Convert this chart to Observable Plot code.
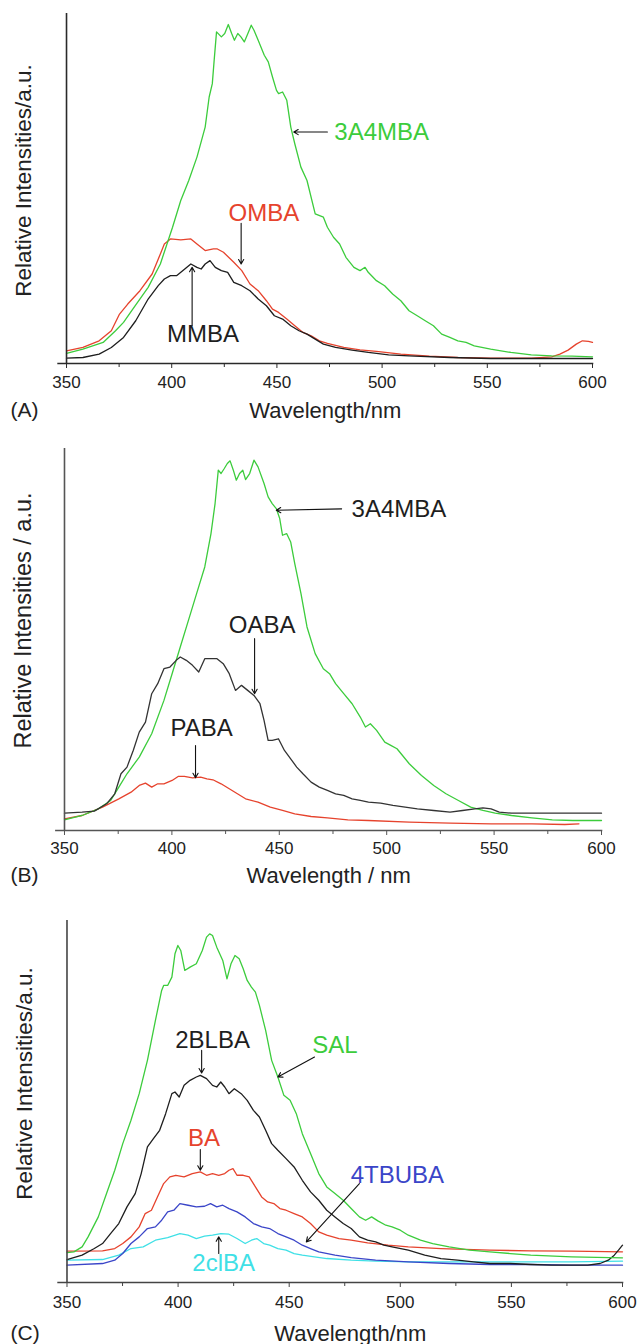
<!DOCTYPE html>
<html><head><meta charset="utf-8">
<script src="https://cdn.jsdelivr.net/npm/d3@7"></script>
<script src="https://cdn.jsdelivr.net/npm/@observablehq/plot@0.6"></script>
<style>
body{margin:0;background:#fff;width:640px;}
#chart svg{display:block;}
</style></head><body><div id="chart"></div>
<script>
// ---------- tick labels ----------
const majorTicks = [350, 400, 450, 500, 550, 600];
const minorTicks = [375, 425, 475, 525, 575];

// ---------- colours ----------
const GREEN = "#3ccc3c", RED = "#e6432d", BLACK = "#1e1e1e", BLUE = "#3a45c8", CYAN = "#3fe0e6";

// ---------- Panel A : [wavelength nm, relative intensity] ----------
const A_3A4MBA = [[350,3.0],[357.8,4.3],[367.4,6.3],[373.3,9.8],[377.1,12.3],[381,15.8],[388.8,22.8],[394.6,29.8],[400.4,40.8],[404.3,48.8],[408.1,54.8],[412,61.8],[415.9,70.8],[417.8,79.8],[419.3,83.8],[420.2,91.0],[421.3,99.3],[423.6,97.8],[425.2,98.8],[426.9,101.5],[428.5,98.8],[429.8,96.8],[431.4,98.8],[432.9,97.8],[434.5,96.3],[436.2,98.8],[437.8,101.3],[439.1,99.8],[441.1,96.8],[444,92.3],[445.9,90.3],[447.9,85.8],[449.8,81.8],[450.8,80.8],[452.7,81.3],[454.7,78.8],[456.6,70.8],[458.5,65.8],[461.4,58.8],[464.3,54.8],[468.2,44.8],[472.1,43.8],[474,40.8],[476.9,37.8],[479.8,35.8],[482.8,31.8],[486.6,28.8],[489.5,27.8],[491.9,28.8],[493.4,27.3],[497.3,24.8],[501.2,23.3],[505,20.8],[508.9,18.8],[512.8,15.8],[516.7,14.3],[520.5,12.8],[524.4,11.3],[528.3,8.8],[532.2,7.8],[536,6.8],[539.9,6.3],[543.8,5.3],[551.6,4.3],[561.2,3.3],[570.9,2.6],[580.6,2.3],[590.3,2.2],[600,2.0]];
const A_OMBA = [[350,3.8],[357.8,4.8],[365.5,6.8],[371.3,9.8],[375.2,14.8],[379.1,17.8],[384.9,21.8],[390.7,26.8],[394.6,32.8],[396.5,35.8],[399.4,37.3],[404.3,37.0],[409.1,37.3],[412,35.8],[415.9,33.8],[419.8,34.3],[421.7,34.3],[424.6,33.3],[429.5,30.3],[433.3,27.8],[437.2,23.8],[441.1,21.8],[445,18.8],[447.9,16.3],[450.8,15.3],[454.7,13.3],[458.5,11.3],[462.4,9.3],[466.3,8.3],[470.2,6.8],[474,6.0],[481.8,4.8],[489.5,4.1],[497.3,3.6],[508.9,2.8],[522.5,2.2],[536,1.8],[551.6,1.6],[570.9,1.6],[580.6,2.0],[584.5,2.8],[588.4,4.0],[592.3,5.8],[595.2,6.8],[598.1,6.6],[600,6.3]];
const A_MMBA = [[350,1.6],[357.8,1.8],[365.5,2.8],[371.3,4.8],[377.1,7.8],[382.9,12.8],[388.8,19.3],[393.6,23.3],[396.5,25.3],[399.4,26.3],[402.3,26.3],[405.2,27.8],[409.1,29.8],[412,28.8],[414,28.3],[415.9,29.8],[418.2,30.8],[420.7,28.8],[423.6,27.8],[426.6,27.3],[429.5,24.3],[433.3,23.3],[437.2,21.8],[441.1,19.3],[445,17.3],[448.8,14.3],[452.7,13.3],[456.6,11.3],[460.5,9.8],[464.3,8.8],[468.2,7.3],[472.1,5.8],[477.9,4.8],[485.7,4.0],[493.4,3.3],[503.1,2.6],[512.8,2.3],[532.2,1.8],[551.6,1.5],[570.9,1.5],[600,1.5]];

// ---------- Panel B ----------
const B_3A4MBA = [[350,3.2],[358.2,4.5],[365.8,6.5],[371.5,9.0],[375.3,13.0],[379.1,17.0],[384.8,22.0],[390.6,29.0],[396.3,39.0],[400.1,47.0],[403.9,55.0],[407.7,63.0],[411.5,71.0],[415.3,79.0],[418.2,89.0],[420.1,98.0],[421.6,108.0],[422.9,107.0],[424.4,108.5],[425.8,110.0],[427.1,110.8],[428.6,108.0],[430,105.0],[431.5,107.0],[433,108.0],[434.3,105.2],[436.2,107.0],[438.2,111.0],[440.1,109.0],[442.9,104.0],[444.8,100.0],[446.7,98.0],[448.6,96.5],[450.2,93.5],[451.5,88.5],[453.4,89.0],[455.3,86.5],[457.2,80.0],[460.1,71.0],[462.9,61.0],[466.7,53.0],[470.5,48.5],[473.4,47.0],[476.2,44.0],[480,41.0],[483.9,38.0],[487.7,34.0],[490.1,31.0],[492.4,32.0],[495.3,30.0],[499.1,26.5],[501.9,25.5],[504.8,24.5],[510.5,20.0],[516.2,16.5],[521.9,13.5],[527.6,11.0],[533.4,9.0],[539.1,7.0],[544.8,6.0],[550.5,5.2],[558.1,4.5],[567.6,3.8],[577.1,3.2],[586.7,3.0],[600,3.0]];
const B_OABA = [[350,5.2],[358.2,5.5],[363.9,5.8],[369.6,8.0],[373.4,11.0],[376.3,17.0],[379.1,19.0],[382,24.0],[384.8,29.5],[387.7,32.5],[390.6,41.0],[393.4,44.0],[396.3,48.5],[399.1,49.0],[402,51.0],[403.9,52.0],[406.7,51.0],[409.6,49.5],[412.5,47.5],[415.3,51.5],[418.2,51.5],[421,51.5],[423.9,50.0],[426.7,47.0],[429.6,42.0],[432.4,43.5],[435.3,42.0],[438.2,40.5],[441,38.0],[442.9,33.0],[444.8,27.0],[446.7,27.0],[449.6,27.5],[452.4,24.0],[455.3,21.5],[458.1,19.0],[461,17.0],[464.8,14.5],[468.6,13.0],[472.4,12.0],[476.2,11.0],[480,10.5],[483.9,9.5],[487.7,9.0],[491.5,8.5],[497.2,8.2],[502.9,7.5],[508.6,7.0],[514.3,6.5],[521.9,6.0],[529.5,5.5],[535.3,6.0],[541,6.5],[544.8,6.8],[548.6,6.5],[552.4,5.5],[558.1,5.2],[567.6,5.2],[600,5.2]];
const B_PABA = [[350,3.5],[358.2,4.5],[367.7,7.0],[375.3,9.5],[381,11.5],[384.8,13.5],[387.7,14.2],[390.6,13.0],[393.4,14.0],[396.3,14.0],[400.1,15.0],[402.9,16.2],[405.8,16.2],[409.6,15.8],[413.4,16.0],[416.3,15.5],[419.1,15.2],[422.9,14.0],[426.7,12.5],[430.5,11.0],[434.3,9.5],[440.1,8.5],[445.8,7.0],[451.5,6.0],[457.2,5.0],[464.8,4.2],[472.4,3.8],[481.9,3.2],[491.5,3.0],[510.5,2.5],[529.5,2.2],[548.6,2.0],[567.6,2.0],[582.9,1.8],[589.5,2.0]];

// ---------- Panel C ----------
const C_SAL = [[350,9.0],[353.1,9.2],[356.8,10.7],[359.5,13.7],[364.1,19.7],[367.8,26.7],[371.5,33.7],[375.1,41.7],[378.8,48.7],[382.5,56.7],[386.2,66.7],[389.8,78.7],[392.6,87.7],[393.5,89.2],[395.3,89.2],[397.2,91.7],[398.6,98.7],[399.9,101.2],[401.2,99.7],[403,93.7],[405.4,94.7],[408.2,95.7],[410.9,99.7],[412.8,103.7],[414.2,104.7],[415.5,104.2],[417.4,100.7],[420.1,96.7],[422,91.2],[423.8,95.7],[425.6,98.2],[427.5,97.2],[429.3,94.2],[431.1,90.7],[433,88.7],[434.8,87.2],[436.6,83.2],[439.4,75.7],[442.1,66.7],[444.9,61.7],[447.6,56.2],[450.4,54.7],[453.2,50.7],[455.9,44.7],[459.6,38.7],[463.3,32.7],[466.9,28.7],[470.6,26.7],[474.3,24.7],[477.9,22.2],[481.6,19.7],[484.4,18.7],[487.1,19.7],[489.9,18.5],[493.5,17.2],[496.3,16.7],[500,15.7],[503.6,14.2],[509.1,12.7],[514.6,11.7],[522,10.7],[531.2,9.7],[540.3,9.2],[549.5,8.7],[558.7,8.2],[577.1,7.7],[600,7.4]];
const C_2BLBA = [[350,6.9],[356.8,8.2],[362.3,10.2],[366,11.7],[369.6,14.7],[373.3,17.7],[377,22.7],[380.7,26.7],[383.4,32.7],[386.2,40.7],[388.9,43.2],[391.7,45.7],[394.4,50.7],[397.2,56.7],[398.6,57.2],[400.5,55.7],[402.7,59.2],[405.4,60.7],[408.2,61.7],[410,62.2],[412.8,61.2],[415.5,59.2],[417.4,58.7],[419.2,60.2],[421,58.7],[422.9,56.7],[425.3,58.2],[428.4,56.7],[431.1,54.7],[433.9,51.7],[436.6,49.7],[439.4,45.7],[442.1,41.7],[444.9,39.7],[448.6,37.2],[452.2,34.7],[455.9,30.7],[459.6,27.2],[463.3,24.7],[466.9,21.7],[470.6,19.7],[474.3,17.7],[477.9,16.2],[481.6,13.7],[485.3,12.7],[488.9,12.2],[492.6,11.2],[496.3,10.7],[503.6,9.7],[511,8.2],[518.3,7.2],[525.7,6.7],[533,6.2],[540.3,5.7],[549.5,5.7],[558.7,5.4],[567.9,5.2],[577.1,5.2],[584.4,5.2],[589.9,5.7],[593.6,6.7],[596.3,8.2],[598.2,9.7],[600,11.2]];
const C_BA = [[350,9.4],[366,9.5],[371.5,10.2],[375.1,11.7],[378.8,13.7],[382.5,16.7],[385.2,20.7],[388,21.7],[390.7,25.7],[393.5,29.7],[396.3,31.7],[399,32.2],[402.7,31.7],[406.4,32.7],[410,33.2],[412.8,32.2],[415.5,32.7],[418.3,32.2],[421,32.7],[422.9,33.7],[424.7,34.2],[426.5,32.2],[429.3,32.2],[432,31.7],[434.8,28.7],[437.6,25.7],[440.3,24.2],[443.1,23.7],[445.8,22.2],[448.6,21.7],[452.2,20.7],[455.9,19.7],[459.6,17.7],[463.3,15.2],[466.9,14.2],[472.4,13.2],[477.9,12.7],[485.3,11.9],[494.5,11.2],[503.6,10.7],[518.3,10.2],[540.3,9.7],[558.7,9.5],[577.1,9.4],[600,9.2]];
const C_4TBUBA = [[350,5.2],[366,5.7],[371.5,6.7],[375.1,8.7],[378.8,11.7],[382.5,13.7],[386.2,16.2],[389.8,16.7],[392.6,18.7],[395.3,21.2],[398.1,21.7],[400.8,23.7],[404.5,23.2],[408.2,22.7],[411.9,22.9],[414.6,23.7],[417.4,22.7],[420.1,23.2],[422.9,22.2],[426.5,21.2],[430.2,19.7],[433.9,17.7],[437.6,16.7],[441.2,16.2],[444.9,14.7],[448.6,13.7],[452.2,12.7],[455.9,11.2],[459.6,10.2],[463.3,9.2],[470.6,8.2],[477.9,7.5],[488.9,6.7],[503.6,6.2],[522,5.7],[540.3,5.4],[558.7,5.4],[577.1,5.2],[600,5.2]];
const C_2clBA = [[350,6.7],[366,6.9],[373.3,8.2],[378.8,10.2],[384.3,10.7],[389.8,12.7],[395.3,13.5],[400.8,14.7],[404.5,14.2],[408.2,13.2],[411.9,13.9],[415.5,14.2],[419.2,14.7],[422.9,14.5],[426.5,13.2],[430.2,11.7],[433,12.7],[435.4,13.2],[438.5,11.7],[441.2,11.2],[444.9,10.2],[448.6,9.7],[452.2,8.7],[455.9,8.2],[461.4,7.7],[466.9,7.2],[477.9,6.7],[488.9,6.4],[503.6,6.2],[540.3,6.2],[577.1,6.2],[600,6.4]];

// ---------- annotations (data units) ----------
const A_labels = [{text:"3A4MBA",x:499.8,y:69.3,color:GREEN},{text:"OMBA",x:443.8,y:45.1,color:RED},{text:"MMBA",x:414.9,y:8.8,color:BLACK}];
const A_arrows = [{x1:474,y1:69.3,x2:458,y2:69.3},{x1:433,y1:42,x2:433,y2:29.8},{x1:409.7,y1:11.3,x2:409.7,y2:28.8}];
const B_labels = [{text:"3A4MBA",x:505.7,y:96.2,color:BLACK},{text:"OABA",x:442,y:61.5,color:BLACK},{text:"PABA",x:413.8,y:30.5,color:BLACK}];
const B_arrows = [{x1:479,y1:96.4,x2:448.6,y2:96},{x1:438.5,y1:57.5,x2:438.5,y2:41},{x1:411,y1:25.5,x2:411,y2:15.8}];
const C_labels = [{text:"SAL",x:470.6,y:71.2,color:GREEN},{text:"2BLBA",x:415.5,y:72.7,color:BLACK},{text:"BA",x:411.7,y:43.2,color:RED},{text:"4TBUBA",x:498.7,y:32.2,color:BLUE},{text:"2clBA",x:420.5,y:5.9,color:CYAN}];
const C_arrows = [{x1:461.4,y1:67.7,x2:444.9,y2:61.7},{x1:410.6,y1:69.7,x2:410.6,y2:62.9},{x1:410,y1:39.9,x2:410,y2:33.7},{x1:481.6,y1:29.7,x2:457.7,y2:12.2},{x1:418.3,y1:8.7,x2:418.3,y2:13.7}];

const FONT = "'Liberation Sans', Arial, Helvetica, sans-serif";
const toRows = (arr, color) => arr.map(([w, v]) => ({w, v, color}));

function panel(o) {
  const marks = [];
  for (const [arr, color] of o.series) {
    marks.push(Plot.line(toRows(arr, color), {x: "w", y: "v", stroke: color, strokeWidth: 1.3, curve: "linear"}));
  }
  marks.push(
    Plot.frame({anchor: "bottom", stroke: o.axisColor, strokeWidth: 1.6}),
    Plot.ruleX([majorTicks[0]], {stroke: o.axisColor, strokeWidth: 1.6}),
    Plot.axisX({ticks: majorTicks, tickSize: 5, tickPadding: o.tickPadding, fontSize: 17, stroke: o.axisColor, fill: "#222", label: null}),
    Plot.axisX({ticks: minorTicks, tickSize: 4, tickFormat: () => "", stroke: o.axisColor, label: null}),
    Plot.text([o.xtitle], {frameAnchor: "bottom", dy: o.xdy, dx: o.xdx || 0, textAnchor: "middle", lineAnchor: "middle", fontSize: 22, fill: "#222"}),
    Plot.text([o.tag], {frameAnchor: "bottom-left", dy: o.xdy, dx: o.tagdx, textAnchor: "start", lineAnchor: "middle", fontSize: 21, fill: "#222"}),
    Plot.text([o.ytitle], {frameAnchor: "left", rotate: -90, dx: o.ydx, dy: o.ydy, textAnchor: "middle", lineAnchor: "middle", fontSize: o.yfont, fill: "#222"}),
    Plot.arrow(o.arrows, {x1: "x1", y1: "y1", x2: "x2", y2: "y2", stroke: "#111", strokeWidth: 1.1, headLength: 7}),
    Plot.text(o.labels, {x: "x", y: "y", text: "text", fill: "color", fontSize: 24})
  );
  return Plot.plot({
    width: 640, height: o.height,
    marginLeft: o.ml, marginRight: o.mr, marginTop: o.mt, marginBottom: o.mb,
    style: {fontFamily: FONT, background: "#fff", overflow: "visible"},
    x: {domain: [346, 600]},
    y: {domain: [0, o.ymax], axis: null},
    marks
  });
}

const chart = document.getElementById("chart");
chart.append(panel({
  series: [[A_OMBA, RED], [A_MMBA, BLACK], [A_3A4MBA, GREEN]],
  labels: A_labels, arrows: A_arrows, ymax: 104.8,
  height: 425, ml: 57.6, mr: 48, mt: 13, mb: 62, axisColor: "#2a2a2a", tickPadding: 7,
  xtitle: "Wavelength/nm", xdy: 47, tag: "(A)", tagdx: -47.6,
  ytitle: "Relative Intensities/a.u.", ydx: -34, ydy: -8, yfont: 22.5
}));
chart.append(panel({
  series: [[B_PABA, RED], [B_3A4MBA, GREEN], [B_OABA, "#333"]],
  labels: B_labels, arrows: B_arrows, ymax: 114.5,
  height: 465, ml: 55.4, mr: 39, mt: 23, mb: 60, axisColor: "#555", tickPadding: 6,
  xtitle: "Wavelength / nm", xdy: 45, tag: "(B)", tagdx: -45.4,
  ytitle: "Relative Intensities / a.u.", ydx: -32, ydy: -19, yfont: 23.5
}));
chart.append(panel({
  series: [[C_2clBA, CYAN], [C_4TBUBA, BLUE], [C_BA, RED], [C_2BLBA, BLACK], [C_SAL, GREEN]],
  labels: C_labels, arrows: C_arrows, ymax: 108.7,
  height: 454, ml: 57.6, mr: 18, mt: 30, mb: 62, axisColor: "#444", tickPadding: 8,
  xtitle: "Wavelength/nm", xdy: 51, xdx: 10, tag: "(C)", tagdx: -47.6,
  ytitle: "Relative Intensities/a.u.", ydx: -33.6, ydy: -18, yfont: 22.5
}));
</script></body></html>
